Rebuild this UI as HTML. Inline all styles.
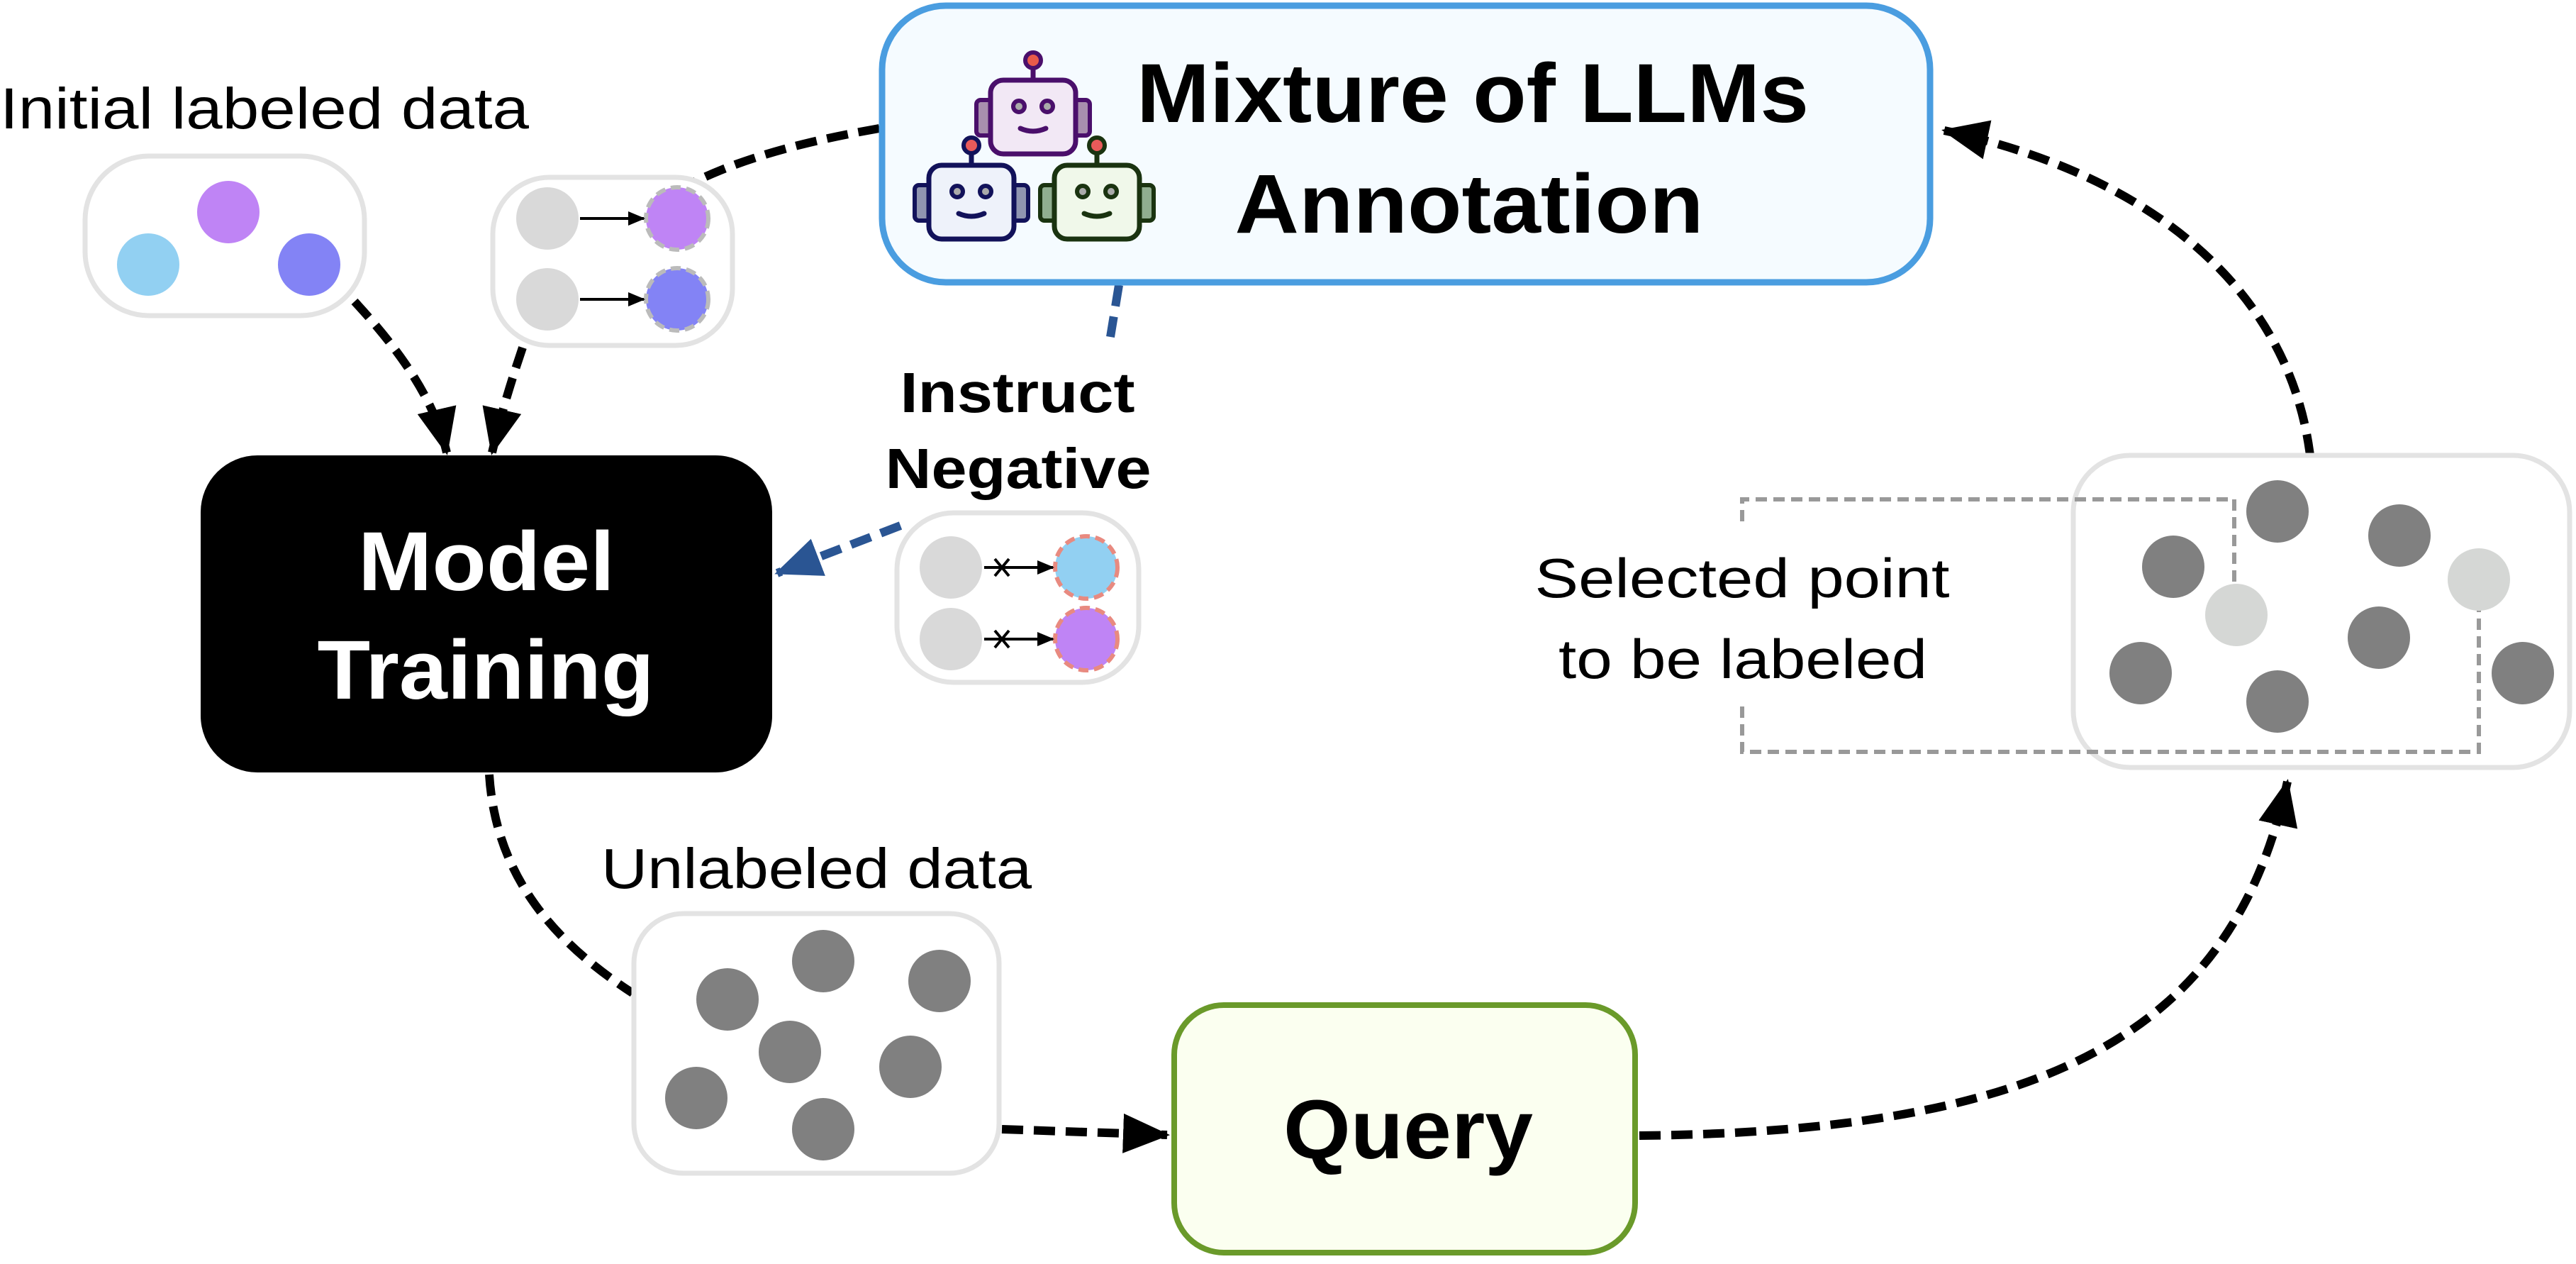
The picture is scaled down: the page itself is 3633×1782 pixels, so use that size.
<!DOCTYPE html>
<html><head><meta charset="utf-8"><style>html,body{margin:0;padding:0;background:#fff}svg{display:block}</style></head>
<body>
<svg width="3633" height="1782" viewBox="0 0 3633 1782" xmlns="http://www.w3.org/2000/svg" font-family="Liberation Sans, sans-serif">
<defs>
<marker id="ah" markerUnits="userSpaceOnUse" markerWidth="70" markerHeight="56" refX="62" refY="28" orient="auto"><path d="M0,0 L66,28 L0,56 z" fill="#000"/></marker>
<marker id="ahb" markerUnits="userSpaceOnUse" markerWidth="70" markerHeight="56" refX="62" refY="28" orient="auto"><path d="M0,0 L66,28 L0,56 z" fill="#2a5593"/></marker>
<marker id="sa" markerUnits="userSpaceOnUse" markerWidth="24" markerHeight="20" refX="22" refY="10" orient="auto"><path d="M0,0 L24,10 L0,20 z" fill="#000"/></marker>
</defs>

<g fill="none" stroke="#000" stroke-width="12" stroke-dasharray="30 15">
<path d="M1240,181 C1130,200 1040,225 968,262"/>
<path d="M500,425 C560,490 612,560 630,638" marker-end="url(#ah)"/>
<path d="M737,490 C720,540 705,590 694,638" marker-end="url(#ah)"/>
<path d="M690,1092 C700,1250 800,1340 892,1400"/>
<path d="M1413,1592 L1646,1600" marker-end="url(#ah)"/>
<path d="M2312,1601 C2900,1595 3150,1450 3226,1102" marker-end="url(#ah)"/>
<path d="M3258,642 C3230,420 3050,250 2742,184" marker-end="url(#ah)"/>
</g>
<g fill="none" stroke="#2a5593" stroke-width="12" stroke-dasharray="30 15">
<path d="M1578,402 L1566,475"/>
<path d="M1270,741 L1096,808" marker-end="url(#ahb)"/>
</g>

<text x="0" y="181" font-size="82" textLength="746" lengthAdjust="spacingAndGlyphs">Initial labeled data</text>
<rect x="120" y="220" width="394" height="225" rx="90" fill="#fff" stroke="#e3e3e3" stroke-width="7"/>
<circle cx="322" cy="299" r="44" fill="#bf84f5"/>
<circle cx="209" cy="373" r="44" fill="#92d0f2"/>
<circle cx="436" cy="373" r="44" fill="#8383f5"/>

<rect x="695" y="250" width="338" height="237" rx="80" fill="#fff" stroke="#e3e3e3" stroke-width="7"/>
<circle cx="772" cy="308" r="44" fill="#d9d9d9"/>
<circle cx="772" cy="422" r="44" fill="#d9d9d9"/>
<circle cx="955" cy="308" r="44" fill="#bf84f5" stroke="#bbb" stroke-width="6" stroke-dasharray="14 8"/>
<circle cx="955" cy="422" r="44" fill="#8383f5" stroke="#bbb" stroke-width="6" stroke-dasharray="14 8"/>
<g stroke="#000" stroke-width="4"><line x1="818" y1="308" x2="908" y2="308" marker-end="url(#sa)"/><line x1="818" y1="422" x2="908" y2="422" marker-end="url(#sa)"/></g>

<rect x="1244" y="8" width="1478" height="390" rx="90" fill="#f5fbff" stroke="#4a9de0" stroke-width="9"/>
<text x="2077" y="172" font-size="118" font-weight="bold" text-anchor="middle" textLength="948" lengthAdjust="spacingAndGlyphs">Mixture of LLMs</text>
<text x="2072" y="328" font-size="118" font-weight="bold" text-anchor="middle" textLength="661" lengthAdjust="spacingAndGlyphs">Annotation</text>

<g transform="translate(1397,113)">
<rect x="-20" y="28" width="24" height="50" rx="6" fill="#a88fae" stroke="#4a0f6b" stroke-width="6"/>
<rect x="116" y="28" width="24" height="50" rx="6" fill="#a88fae" stroke="#4a0f6b" stroke-width="6"/>
<line x1="60" y1="-16" x2="60" y2="0" stroke="#4a0f6b" stroke-width="7"/>
<circle cx="60" cy="-28" r="11" fill="#e85a4a" stroke="#4a0f6b" stroke-width="6"/>
<rect x="0" y="0" width="120" height="104" rx="18" fill="#f2e8f5" stroke="#4a0f6b" stroke-width="7"/>
<circle cx="40" cy="37" r="8" fill="#aaa" stroke="#4a0f6b" stroke-width="6"/>
<circle cx="80" cy="37" r="8" fill="#aaa" stroke="#4a0f6b" stroke-width="6"/>
<path d="M42,68 Q60,76 78,68" fill="none" stroke="#4a0f6b" stroke-width="7" stroke-linecap="round"/>
</g>
<g transform="translate(1310,233)">
<rect x="-20" y="28" width="24" height="50" rx="6" fill="#9095b0" stroke="#12125a" stroke-width="6"/>
<rect x="116" y="28" width="24" height="50" rx="6" fill="#9095b0" stroke="#12125a" stroke-width="6"/>
<line x1="60" y1="-16" x2="60" y2="0" stroke="#12125a" stroke-width="7"/>
<circle cx="60" cy="-28" r="11" fill="#e85a5a" stroke="#12125a" stroke-width="6"/>
<rect x="0" y="0" width="120" height="104" rx="18" fill="#eef2fa" stroke="#12125a" stroke-width="7"/>
<circle cx="40" cy="37" r="8" fill="#aaa" stroke="#12125a" stroke-width="6"/>
<circle cx="80" cy="37" r="8" fill="#aaa" stroke="#12125a" stroke-width="6"/>
<path d="M42,68 Q60,76 78,68" fill="none" stroke="#12125a" stroke-width="7" stroke-linecap="round"/>
</g>
<g transform="translate(1487,233)">
<rect x="-20" y="28" width="24" height="50" rx="6" fill="#90ae90" stroke="#1a3310" stroke-width="6"/>
<rect x="116" y="28" width="24" height="50" rx="6" fill="#90ae90" stroke="#1a3310" stroke-width="6"/>
<line x1="60" y1="-16" x2="60" y2="0" stroke="#1a3310" stroke-width="7"/>
<circle cx="60" cy="-28" r="11" fill="#e85a5a" stroke="#1a3310" stroke-width="6"/>
<rect x="0" y="0" width="120" height="104" rx="18" fill="#f0f8ea" stroke="#1a3310" stroke-width="7"/>
<circle cx="40" cy="37" r="8" fill="#aaa" stroke="#1a3310" stroke-width="6"/>
<circle cx="80" cy="37" r="8" fill="#aaa" stroke="#1a3310" stroke-width="6"/>
<path d="M42,68 Q60,76 78,68" fill="none" stroke="#1a3310" stroke-width="7" stroke-linecap="round"/>
</g>

<rect x="283" y="642" width="806" height="447" rx="80" fill="#000"/>
<text x="686" y="832" font-size="118" font-weight="bold" fill="#fff" text-anchor="middle" textLength="362" lengthAdjust="spacingAndGlyphs">Model</text>
<text x="685" y="985" font-size="118" font-weight="bold" fill="#fff" text-anchor="middle" textLength="475" lengthAdjust="spacingAndGlyphs">Training</text>

<text x="1435" y="581" font-size="80" font-weight="bold" text-anchor="middle" textLength="331" lengthAdjust="spacingAndGlyphs">Instruct</text>
<text x="1436" y="688" font-size="80" font-weight="bold" text-anchor="middle" textLength="375" lengthAdjust="spacingAndGlyphs">Negative</text>
<rect x="1265" y="723" width="341" height="239" rx="80" fill="#fff" stroke="#e3e3e3" stroke-width="7"/>
<circle cx="1341" cy="800" r="44" fill="#d9d9d9"/>
<circle cx="1341" cy="901" r="44" fill="#d9d9d9"/>
<circle cx="1532" cy="800" r="44" fill="#92d0f2" stroke="#e88a80" stroke-width="6" stroke-dasharray="14 8"/>
<circle cx="1532" cy="901" r="44" fill="#bf84f5" stroke="#e88a80" stroke-width="6" stroke-dasharray="14 8"/>
<g stroke="#000" stroke-width="4"><line x1="1388" y1="800" x2="1485" y2="800" marker-end="url(#sa)"/><line x1="1388" y1="901" x2="1485" y2="901" marker-end="url(#sa)"/>
<path d="M1403,788 L1423,812 M1423,788 L1403,812 M1403,889 L1423,913 M1423,889 L1403,913"/></g>

<text x="848" y="1252" font-size="80" textLength="607" lengthAdjust="spacingAndGlyphs">Unlabeled data</text>
<rect x="894" y="1288" width="515" height="366" rx="70" fill="#fff" stroke="#e3e3e3" stroke-width="7"/>
<g fill="#808080">
<circle cx="1026" cy="1409" r="44"/><circle cx="1161" cy="1355" r="44"/><circle cx="1325" cy="1383" r="44"/>
<circle cx="1114" cy="1483" r="44"/><circle cx="1284" cy="1504" r="44"/><circle cx="982" cy="1548" r="44"/><circle cx="1161" cy="1592" r="44"/>
</g>

<rect x="1656" y="1417" width="650" height="349" rx="70" fill="#fbfff0" stroke="#6a9a2a" stroke-width="8"/>
<text x="1986" y="1633" font-size="118" font-weight="bold" text-anchor="middle" textLength="352" lengthAdjust="spacingAndGlyphs">Query</text>

<rect x="2924" y="642" width="700" height="440" rx="80" fill="#fff" stroke="#e3e3e3" stroke-width="7"/>
<path d="M3151,845 L3151,704 L2457,704 L2457,742 M2457,996 L2457,1060 L3496,1060 L3496,860" fill="none" stroke="#999" stroke-width="6" stroke-dasharray="16 9"/>
<g fill="#808080">
<circle cx="3212" cy="721" r="44"/><circle cx="3384" cy="755" r="44"/><circle cx="3065" cy="799" r="44"/>
<circle cx="3355" cy="899" r="44"/><circle cx="3019" cy="949" r="44"/><circle cx="3212" cy="989" r="44"/><circle cx="3558" cy="949" r="44"/>
</g>
<circle cx="3154" cy="867" r="44" fill="#d5d7d5"/>
<circle cx="3496" cy="817" r="44" fill="#d5d7d5"/>
<text x="2457" y="842" font-size="78" text-anchor="middle" textLength="585" lengthAdjust="spacingAndGlyphs">Selected point</text>
<text x="2458" y="956" font-size="78" text-anchor="middle" textLength="520" lengthAdjust="spacingAndGlyphs">to be labeled</text>
</svg>
</body></html>
